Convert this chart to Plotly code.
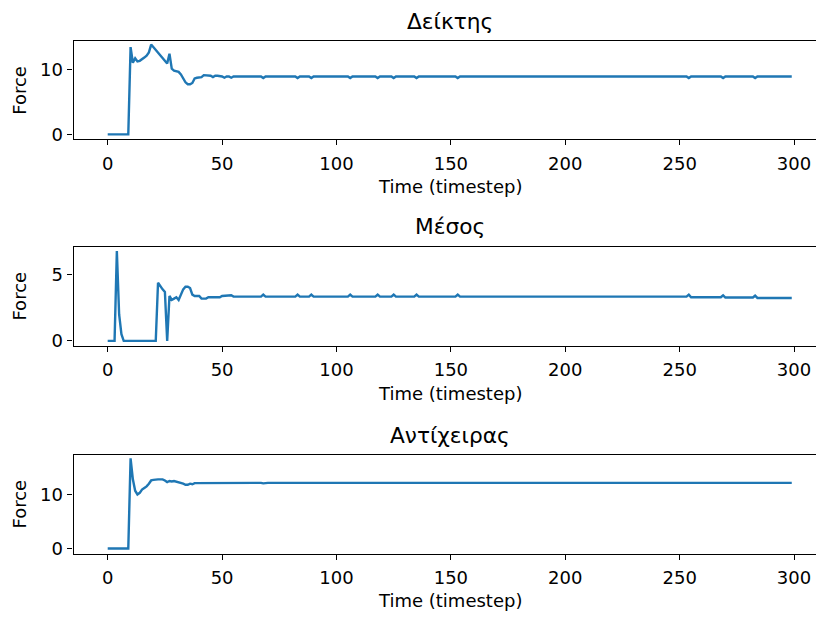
import plotly.graph_objects as go

timesteps = list(range(300))

deiktis_force = [
    0, 0, 0, 0, 0, 0, 0, 0, 0, 0,
    13.4, 11.0, 11.7, 11.2, 11.3, 11.5, 11.8, 12.1, 12.6, 13.8,
    13.4, 12.9, 12.5, 12.1, 11.7, 11.3, 10.9, 12.4, 10.1, 9.8,
    9.7, 9.6, 9.2, 8.5, 8.0, 7.7, 7.7, 7.9, 8.6, 8.7,
    8.7, 8.8, 9.1, 9.1, 9.1, 9.0, 8.8, 9.0, 9.0, 9.0,
    8.9, 8.7, 8.9, 8.9, 8.7, 8.9, 8.9, 8.9, 8.9, 8.9,
    8.9, 8.9, 8.9, 8.9, 8.9, 8.9, 8.9, 8.9, 8.65, 8.9,
    8.9, 8.9, 8.9, 8.9, 8.9, 8.9, 8.9, 8.9, 8.9, 8.9,
    8.9, 8.9, 8.9, 8.65, 8.9, 8.9, 8.9, 8.9, 8.9, 8.65,
    8.9, 8.9, 8.9, 8.9, 8.9, 8.9, 8.9, 8.9, 8.9, 8.9,
    8.9, 8.9, 8.9, 8.9, 8.9, 8.9, 8.65, 8.9, 8.9, 8.9,
    8.9, 8.9, 8.9, 8.9, 8.9, 8.9, 8.9, 8.9, 8.65, 8.9,
    8.9, 8.9, 8.9, 8.9, 8.9, 8.65, 8.9, 8.9, 8.9, 8.9,
    8.9, 8.9, 8.9, 8.9, 8.9, 8.65, 8.9, 8.9, 8.9, 8.9,
    8.9, 8.9, 8.9, 8.9, 8.9, 8.9, 8.9, 8.9, 8.9, 8.9,
    8.9, 8.9, 8.9, 8.65, 8.9, 8.9, 8.9, 8.9, 8.9, 8.9,
    8.9, 8.9, 8.9, 8.9, 8.9, 8.9, 8.9, 8.9, 8.9, 8.9,
    8.9, 8.9, 8.9, 8.9, 8.9, 8.9, 8.9, 8.9, 8.9, 8.9,
    8.9, 8.9, 8.9, 8.9, 8.9, 8.9, 8.9, 8.9, 8.9, 8.9,
    8.9, 8.9, 8.9, 8.9, 8.9, 8.9, 8.9, 8.9, 8.9, 8.9,
    8.9, 8.9, 8.9, 8.9, 8.9, 8.9, 8.9, 8.9, 8.9, 8.9,
    8.9, 8.9, 8.9, 8.9, 8.9, 8.9, 8.9, 8.9, 8.9, 8.9,
    8.9, 8.9, 8.9, 8.9, 8.9, 8.9, 8.9, 8.9, 8.9, 8.9,
    8.9, 8.9, 8.9, 8.9, 8.9, 8.9, 8.9, 8.9, 8.9, 8.9,
    8.9, 8.9, 8.9, 8.9, 8.9, 8.9, 8.9, 8.9, 8.9, 8.9,
    8.9, 8.9, 8.9, 8.9, 8.65, 8.9, 8.9, 8.9, 8.9, 8.9,
    8.9, 8.9, 8.9, 8.9, 8.9, 8.9, 8.9, 8.9, 8.9, 8.65,
    8.9, 8.9, 8.9, 8.9, 8.9, 8.9, 8.9, 8.9, 8.9, 8.9,
    8.9, 8.9, 8.9, 8.65, 8.9, 8.9, 8.9, 8.9, 8.9, 8.9,
    8.9, 8.9, 8.9, 8.9, 8.9, 8.9, 8.9, 8.9, 8.9, 8.9,
]

mesos_force = [
    0, 0, 0, 0, 6.8, 2.0, 0.5, 0, 0, 0,
    0, 0, 0, 0, 0, 0, 0, 0, 0, 0,
    0, 0, 4.4, 4.1, 3.9, 3.7, 0.0, 3.4, 3.1, 3.2,
    3.3, 3.1, 3.5, 3.9, 4.1, 4.1, 4.0, 3.5, 3.4, 3.4,
    3.4, 3.2, 3.2, 3.2, 3.3, 3.3, 3.35, 3.3, 3.3, 3.3,
    3.4, 3.4, 3.45, 3.4, 3.45, 3.35, 3.35, 3.35, 3.35, 3.35,
    3.35, 3.35, 3.35, 3.35, 3.35, 3.35, 3.35, 3.35, 3.5, 3.35,
    3.35, 3.35, 3.35, 3.35, 3.35, 3.35, 3.35, 3.35, 3.35, 3.35,
    3.35, 3.35, 3.35, 3.5, 3.35, 3.35, 3.35, 3.35, 3.35, 3.5,
    3.35, 3.35, 3.35, 3.35, 3.35, 3.35, 3.35, 3.35, 3.35, 3.35,
    3.35, 3.35, 3.35, 3.35, 3.35, 3.35, 3.5, 3.35, 3.35, 3.35,
    3.35, 3.35, 3.35, 3.35, 3.35, 3.35, 3.35, 3.35, 3.5, 3.35,
    3.35, 3.35, 3.35, 3.35, 3.35, 3.5, 3.35, 3.35, 3.35, 3.35,
    3.35, 3.35, 3.35, 3.35, 3.35, 3.5, 3.35, 3.35, 3.35, 3.35,
    3.35, 3.35, 3.35, 3.35, 3.35, 3.35, 3.35, 3.35, 3.35, 3.35,
    3.35, 3.35, 3.35, 3.5, 3.35, 3.35, 3.35, 3.35, 3.35, 3.35,
    3.35, 3.35, 3.35, 3.35, 3.35, 3.35, 3.35, 3.35, 3.35, 3.35,
    3.35, 3.35, 3.35, 3.35, 3.35, 3.35, 3.35, 3.35, 3.35, 3.35,
    3.35, 3.35, 3.35, 3.35, 3.35, 3.35, 3.35, 3.35, 3.35, 3.35,
    3.35, 3.35, 3.35, 3.35, 3.35, 3.35, 3.35, 3.35, 3.35, 3.35,
    3.35, 3.35, 3.35, 3.35, 3.35, 3.35, 3.35, 3.35, 3.35, 3.35,
    3.35, 3.35, 3.35, 3.35, 3.35, 3.35, 3.35, 3.35, 3.35, 3.35,
    3.35, 3.35, 3.35, 3.35, 3.35, 3.35, 3.35, 3.35, 3.35, 3.35,
    3.35, 3.35, 3.35, 3.35, 3.35, 3.35, 3.35, 3.35, 3.35, 3.35,
    3.35, 3.35, 3.35, 3.35, 3.35, 3.35, 3.35, 3.35, 3.35, 3.35,
    3.35, 3.35, 3.35, 3.35, 3.5, 3.3, 3.3, 3.3, 3.3, 3.3,
    3.3, 3.3, 3.3, 3.3, 3.3, 3.3, 3.3, 3.3, 3.3, 3.45,
    3.28, 3.28, 3.28, 3.28, 3.28, 3.28, 3.28, 3.28, 3.28, 3.28,
    3.28, 3.28, 3.28, 3.42, 3.25, 3.25, 3.25, 3.25, 3.25, 3.25,
    3.25, 3.25, 3.25, 3.25, 3.25, 3.25, 3.25, 3.25, 3.25, 3.25,
]

antixeiras_force = [
    0, 0, 0, 0, 0, 0, 0, 0, 0, 0,
    16.7, 12.8, 10.7, 10.0, 10.3, 10.9, 11.2, 11.5, 12.0, 12.6,
    12.7, 12.8, 12.8, 12.8, 12.8, 12.6, 12.3, 12.5, 12.4, 12.5,
    12.4, 12.3, 12.1, 12.0, 11.8, 11.8, 12.0, 11.9, 12.1, 12.1,
    12.1, 12.2, 12.15, 12.15, 12.15, 12.15, 12.15, 12.15, 12.15, 12.15,
    12.15, 12.15, 12.15, 12.15, 12.15, 12.15, 12.15, 12.15, 12.15, 12.15,
    12.15, 12.15, 12.15, 12.15, 12.15, 12.15, 12.15, 12.15, 12.05, 12.15,
    12.15, 12.15, 12.15, 12.15, 12.15, 12.15, 12.15, 12.15, 12.15, 12.15,
    12.15, 12.15, 12.15, 12.05, 12.15, 12.15, 12.15, 12.15, 12.15, 12.05,
    12.15, 12.15, 12.15, 12.15, 12.15, 12.15, 12.15, 12.15, 12.15, 12.15,
    12.15, 12.15, 12.15, 12.15, 12.15, 12.15, 12.05, 12.15, 12.15, 12.15,
    12.15, 12.15, 12.15, 12.15, 12.15, 12.15, 12.15, 12.15, 12.05, 12.15,
    12.15, 12.15, 12.15, 12.15, 12.15, 12.05, 12.15, 12.15, 12.15, 12.15,
    12.15, 12.15, 12.15, 12.15, 12.15, 12.05, 12.15, 12.15, 12.15, 12.15,
    12.15, 12.15, 12.15, 12.15, 12.15, 12.15, 12.15, 12.15, 12.15, 12.15,
    12.15, 12.15, 12.15, 12.05, 12.15, 12.15, 12.15, 12.15, 12.15, 12.15,
    12.15, 12.15, 12.15, 12.15, 12.15, 12.15, 12.15, 12.15, 12.15, 12.15,
    12.15, 12.15, 12.15, 12.15, 12.15, 12.15, 12.15, 12.15, 12.15, 12.15,
    12.15, 12.15, 12.15, 12.15, 12.15, 12.15, 12.15, 12.15, 12.15, 12.15,
    12.15, 12.15, 12.15, 12.15, 12.15, 12.15, 12.15, 12.15, 12.15, 12.15,
    12.15, 12.15, 12.15, 12.15, 12.15, 12.15, 12.15, 12.15, 12.15, 12.15,
    12.15, 12.15, 12.15, 12.15, 12.15, 12.15, 12.15, 12.15, 12.15, 12.15,
    12.15, 12.15, 12.15, 12.15, 12.15, 12.15, 12.15, 12.15, 12.15, 12.15,
    12.15, 12.15, 12.15, 12.15, 12.15, 12.15, 12.15, 12.15, 12.15, 12.15,
    12.15, 12.15, 12.15, 12.15, 12.15, 12.15, 12.15, 12.15, 12.15, 12.15,
    12.15, 12.15, 12.15, 12.15, 12.05, 12.15, 12.15, 12.15, 12.15, 12.15,
    12.15, 12.15, 12.15, 12.15, 12.15, 12.15, 12.15, 12.15, 12.15, 12.05,
    12.15, 12.15, 12.15, 12.15, 12.15, 12.15, 12.15, 12.15, 12.15, 12.15,
    12.15, 12.15, 12.15, 12.05, 12.15, 12.15, 12.15, 12.15, 12.15, 12.15,
    12.15, 12.15, 12.15, 12.15, 12.15, 12.15, 12.15, 12.15, 12.15, 12.15,
]

panel_titles = ["Δείκτης", "Μέσος", "Αντίχειρας"]
series = [deiktis_force, mesos_force, antixeiras_force]
x_ticks = [0, 50, 100, 150, 200, 250, 300]
y_ticks = [[0, 10], [0, 5], [0, 10]]
y_ranges = [[-0.76, 14.3], [-0.36, 7.14], [-0.95, 17.4]]

assert all(len(s) == len(timesteps) for s in series)

W, H = 816, 617
# axes pixel boxes (top, bottom)
boxes = [(41.7, 140.7), (249.0, 349.0), (459.0, 559.0)]
title_y = [22, 229, 440]
xlabel_y = [188, 397, 606]
ax_left = 73.5
ax_center = 449.8

FONT = "DejaVu Sans"
LINE_COLOR = "#1f77b4"
TICK_SIZE = 18
TITLE_SIZE = 21.7


def px(x):
    return x / W


def py(y):
    return 1 - y / H


fig = go.Figure()
annotations = []
for i, (vals, title) in enumerate(zip(series, panel_titles)):
    n = "" if i == 0 else str(i + 1)
    fig.add_trace(go.Scatter(
        x=timesteps, y=vals, mode="lines",
        line=dict(color=LINE_COLOR, width=2.4),
        xaxis="x" + n, yaxis="y" + n, showlegend=False,
    ))
    top, bot = boxes[i]
    fig.update_layout(**{
        "xaxis" + n: dict(
            domain=[px(ax_left), 1.0], range=[-14.95, 309.6],
            tickvals=x_ticks, ticks="outside", ticklen=5, tickwidth=1.1,
            tickcolor="black", showline=True, linecolor="black", linewidth=1.1,
            mirror=True, showgrid=False, zeroline=False,
            anchor="y" + n, ticklabelstandoff=3,
            tickfont=dict(family=FONT, size=TICK_SIZE, color="black"),
        ),
        "yaxis" + n: dict(
            domain=[py(bot), py(top)], range=y_ranges[i],
            tickvals=y_ticks[i], ticks="outside", ticklen=5, tickwidth=1.1,
            tickcolor="black", showline=True, linecolor="black", linewidth=1.1,
            mirror=False, showgrid=False, zeroline=False,
            anchor="x" + n, ticklabelstandoff=1,
            tickfont=dict(family=FONT, size=TICK_SIZE, color="black"),
        ),
    })
    annotations.append(dict(
        text=title, xref="paper", yref="paper",
        x=px(ax_center), y=py(title_y[i]),
        xanchor="center", yanchor="middle", showarrow=False,
        font=dict(family=FONT, size=TITLE_SIZE, color="black"),
    ))
    annotations.append(dict(
        text="Time (timestep)", xref="paper", yref="paper",
        x=px(ax_center), y=py(xlabel_y[i]),
        xanchor="center", yanchor="middle", showarrow=False,
        font=dict(family=FONT, size=TICK_SIZE, color="black"),
    ))
    annotations.append(dict(
        text="Force", xref="paper", yref="paper",
        x=px(19.5), y=py((top + bot) / 2), textangle=-90,
        xanchor="center", yanchor="middle", showarrow=False,
        font=dict(family=FONT, size=TICK_SIZE, color="black"),
    ))

fig.update_layout(
    width=W, height=H, autosize=False,
    margin=dict(l=0, r=0, t=0, b=0),
    paper_bgcolor="white", plot_bgcolor="white",
    annotations=annotations,
)

fig.write_html(
    "out.html",
    config={"displayModeBar": False},
    post_script="document.body.style.margin='0';document.body.style.overflow='hidden';",
)
